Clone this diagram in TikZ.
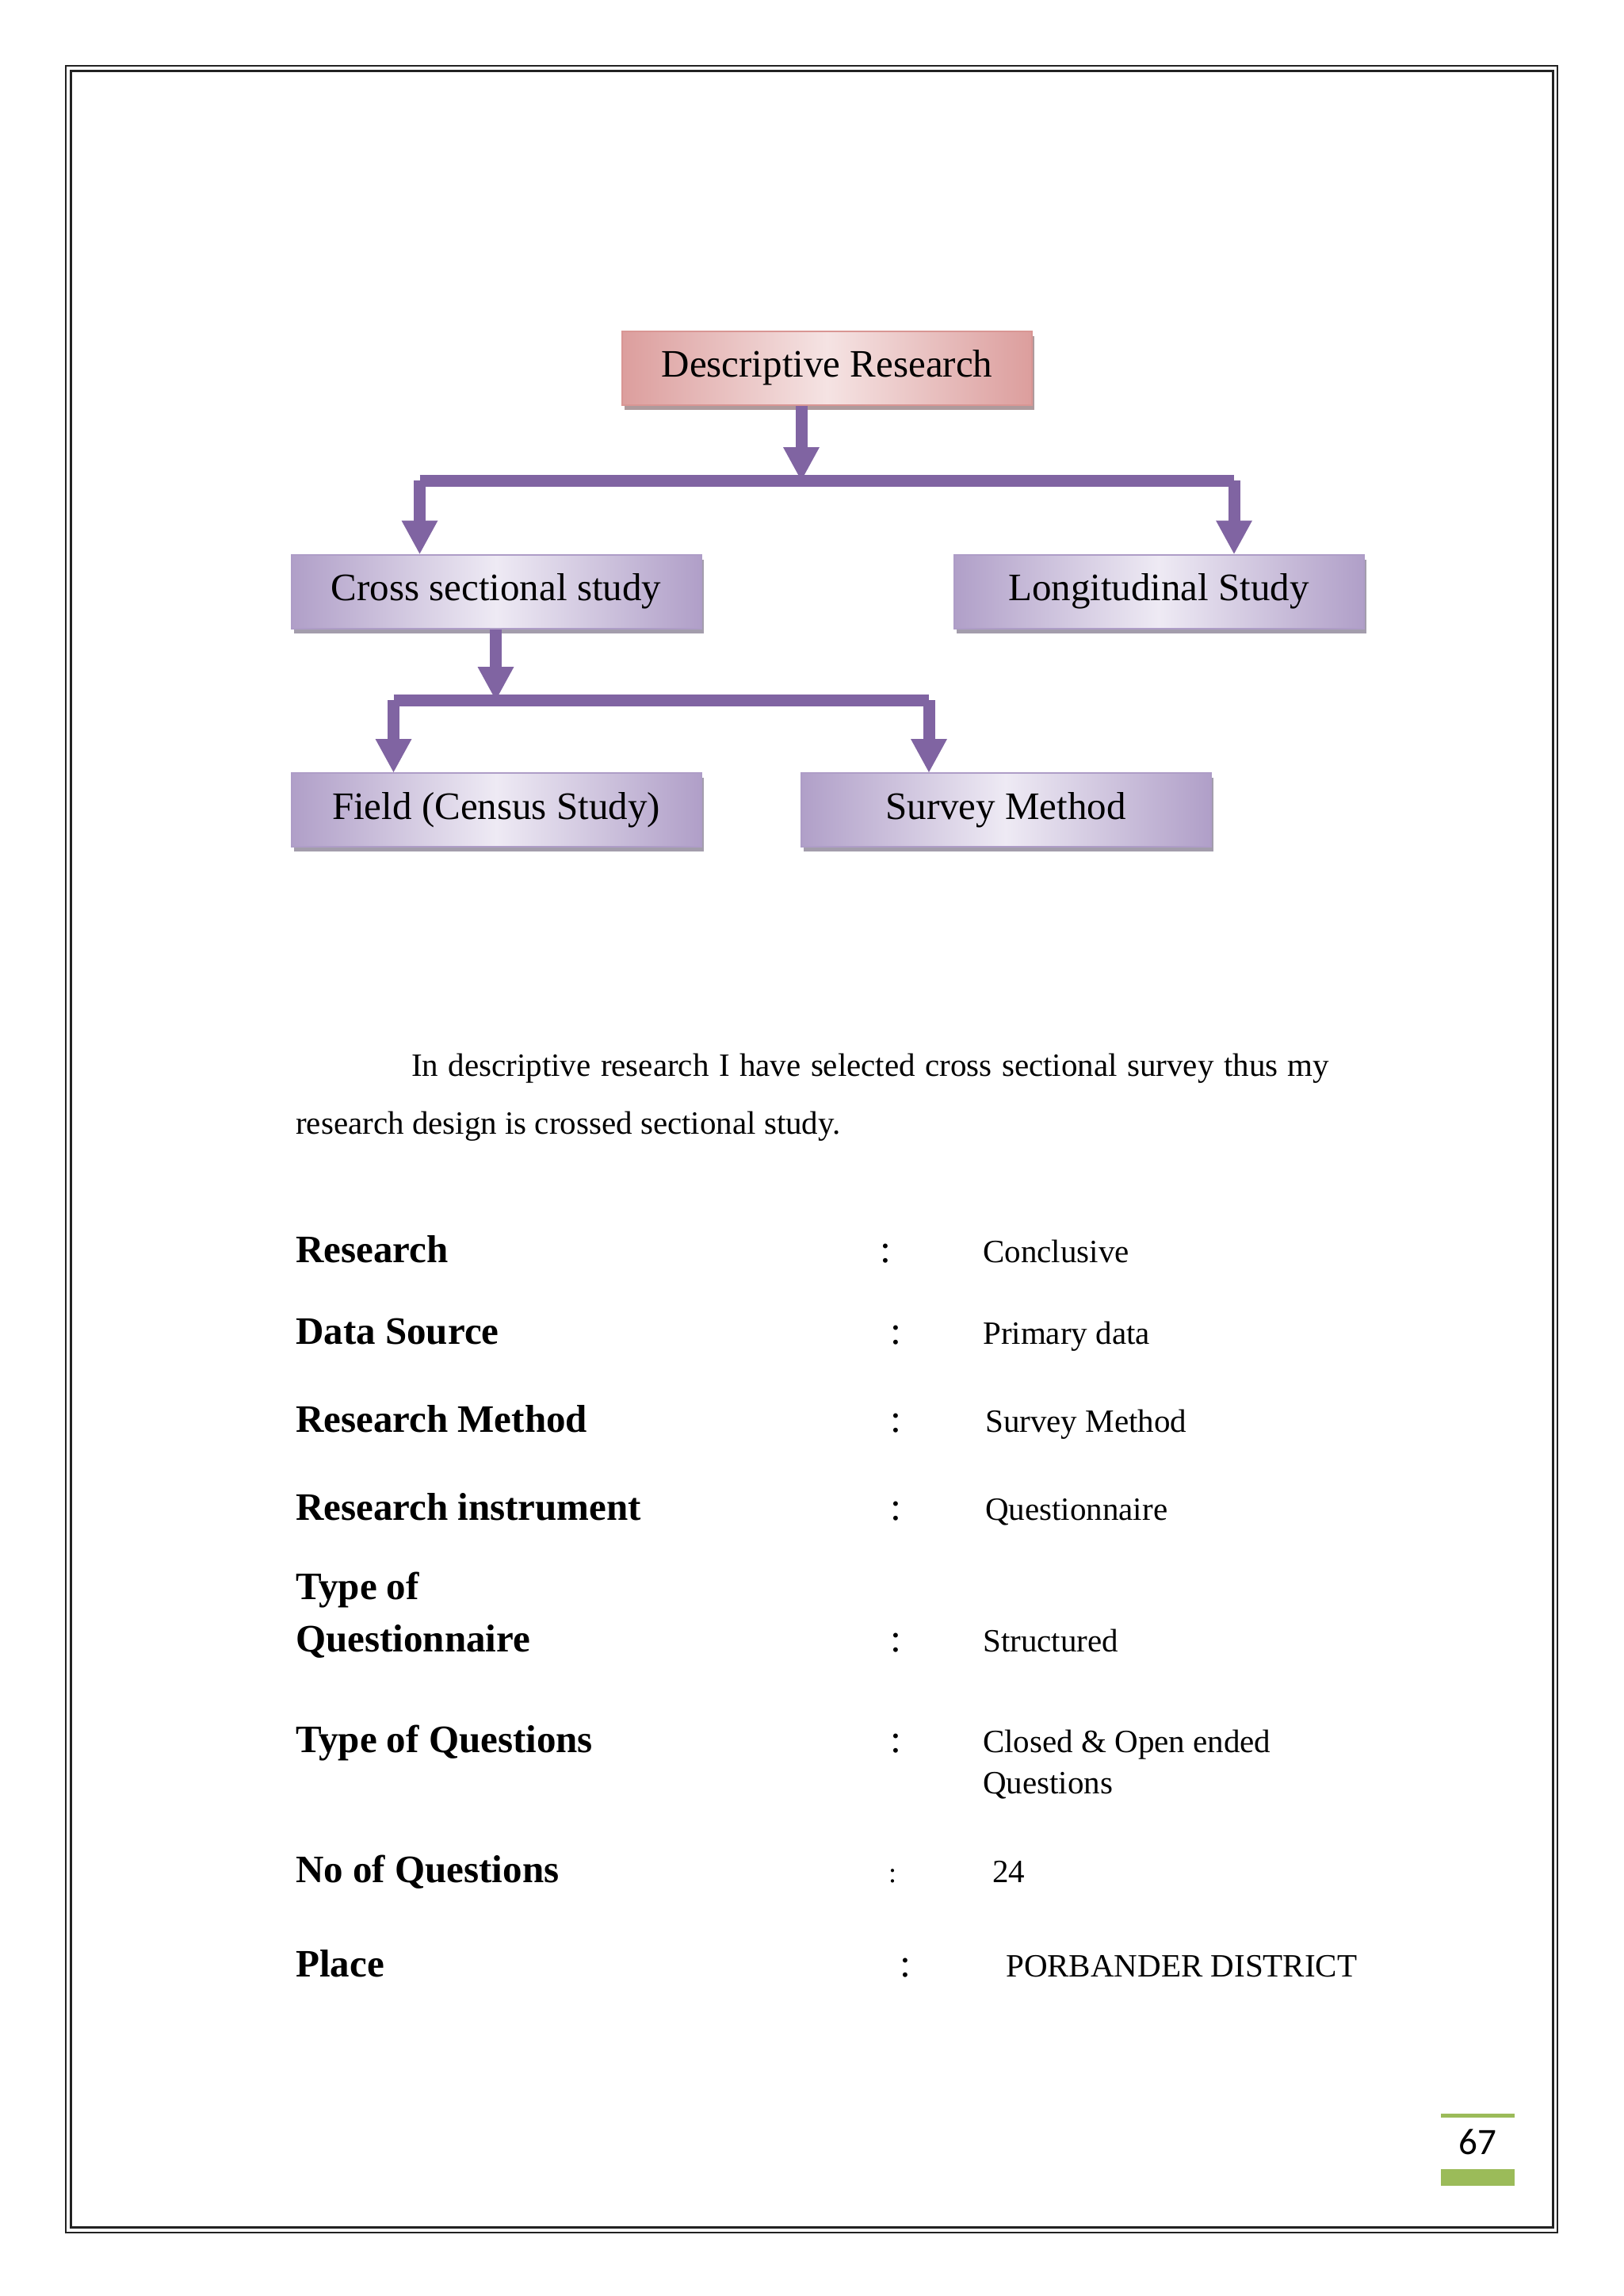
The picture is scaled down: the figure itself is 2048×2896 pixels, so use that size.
\documentclass[tikz,border=0pt]{standalone}
\usepackage{fontspec}
\setmainfont{Liberation Serif}
\newfontfamily\calfont{Carlito}
\usetikzlibrary{arrows.meta,shadows,calc}
\definecolor{arrowpurple}{HTML}{8064A2}
\definecolor{pdark}{HTML}{B09FC8}
\definecolor{plight}{HTML}{EEEAF4}
\definecolor{pborder}{HTML}{AE9DC7}
\definecolor{pshadow}{HTML}{A39DAC}
\definecolor{rdark}{HTML}{DC9E9D}
\definecolor{rlight}{HTML}{F5E3E3}
\definecolor{rborder}{HTML}{D99694}
\definecolor{rshadow}{HTML}{AE9A9C}
\definecolor{olive}{HTML}{9BBB59}
\definecolor{frame}{HTML}{222222}
\begin{document}
\begin{tikzpicture}[x=1pt,y=-1pt,
  boxbase/.style={line width=2pt, minimum width=517pt, minimum height=93pt,
    inner sep=0pt, font=\fontsize{49}{58}\selectfont, shading angle=135},
  purplebox/.style={boxbase, draw=pborder, left color=pdark, right color=pdark, middle color=plight,
    drop shadow={shadow xshift=3pt, shadow yshift=-6pt, fill=pshadow, opacity=1}},
  pinkbox/.style={boxbase, draw=rborder, left color=rdark, right color=rdark, middle color=rlight,
    drop shadow={shadow xshift=3pt, shadow yshift=-6pt, fill=rshadow, opacity=1}},
  conn/.style={draw=arrowpurple, line width=15pt, line cap=butt},
  arr/.style={conn, -{Triangle[width=46pt,length=42pt,line width=0pt]}},
  bodytext/.style={anchor=base west, inner sep=0pt, font=\fontsize{41}{49}\selectfont},
  label/.style={anchor=base west, inner sep=0pt, font=\bfseries\fontsize{49}{58}\selectfont},
  colon/.style={anchor=base west, inner sep=0pt, font=\fontsize{50}{58}\selectfont},
  smallcolon/.style={anchor=base west, inner sep=0pt, font=\fontsize{36}{44}\selectfont},
  value/.style={anchor=base west, inner sep=0pt, font=\fontsize{41}{48}\selectfont},
  framerule/.style={draw=frame}
]
\useasboundingbox (0,0) rectangle (2048,2896);
\fill[white] (0,0) rectangle (2048,2896);

% page frame
\draw[framerule, line width=2.5pt] (83,83) rectangle (1965,2816);
\draw[framerule, line width=3pt] (89.5,89.5) rectangle (1959.5,2809.5);

% boxes
\node[pinkbox] (desc) at (1043.5,464) {Descriptive Research};
\node[purplebox] (cross) at (626,746) {Cross sectional study};
\node[purplebox] (longi) at (1462,746) {Longitudinal Study};
\node[purplebox] (field) at (626,1021.5) {Field (Census Study)};
\node[purplebox] (survey) at (1269,1021.5) {Survey Method};

% connectors level 1
\coordinate (j0) at (1011,606);
\coordinate (b1l) at (529.5,606);
\coordinate (b1r) at (1557,606);
\draw[conn] (b1l) -- (b1r);
\draw[arr] (j0 |- desc.south) -- (j0);
\draw[arr] (b1l) -- (b1l |- cross.north);
\draw[arr] (b1r) -- (b1r |- longi.north);

% connectors level 2
\coordinate (j1) at (625.5,883);
\coordinate (b2l) at (496.5,883);
\coordinate (b2r) at (1172,883);
\draw[conn] (b2l) -- (b2r);
\draw[arr] (j1 |- cross.south) -- (j1);
\draw[arr] (b2l) -- (b2l |- field.north);
\draw[arr] (b2r) -- (b2r |- survey.north);

% paragraph
\node[bodytext] (p1) at (519,1357) {\makebox[1158pt][s]{In descriptive research I have selected cross sectional survey thus my}};
\node[bodytext] (p2) at (373,1430) {research design is crossed sectional study.};

% table
\node[label] (l1) at (373,1592) {Research};
\node[colon] (c1) at (1110,1592) {:};
\node[value] (v1) at (1240,1592) {Conclusive};

\node[label] (l2) at (373,1695) {Data Source};
\node[colon] (c2) at (1123,1695) {:};
\node[value] (v2) at (1240,1695) {Primary data};

\node[label] (l3) at (373,1806) {Research Method};
\node[colon] (c3) at (1123,1806) {:};
\node[value] (v3) at (1243,1806) {Survey Method};

\node[label] (l4) at (373,1917) {Research instrument};
\node[colon] (c4) at (1123,1917) {:};
\node[value] (v4) at (1243,1917) {Questionnaire};

\node[label] (l5) at (373,2017) {\vtop{\baselineskip=66pt\hbox{Type of}\hbox{Questionnaire}}};
\node[colon] (c5) at (1123,2083) {:};
\node[value] (v5) at (1240,2083) {Structured};

\node[label] (l6) at (373,2210) {Type of Questions};
\node[colon] (c6) at (1123,2210) {:};
\node[value] (v6) at (1240,2210) {\vtop{\baselineskip=52pt\hbox{Closed \& Open ended}\hbox{Questions}}};

\node[label] (l7) at (373,2374) {No of Questions};
\node[smallcolon] (c7) at (1121,2374) {:};
\node[value] (v7) at (1252,2374) {24};

\node[label] (l8) at (373,2493) {Place};
\node[colon] (c8) at (1135,2493) {:};
\node[value] (v8) at (1269,2493) {PORBANDER DISTRICT};

% page number
\fill[olive] (1818,2666) rectangle (1911,2671);
\node[inner sep=0pt, font=\calfont\fontsize{47}{56}\selectfont] (pg) at (1864,2702) {67};
\fill[olive] (1818,2736) rectangle (1911,2757);
\end{tikzpicture}
\end{document}
